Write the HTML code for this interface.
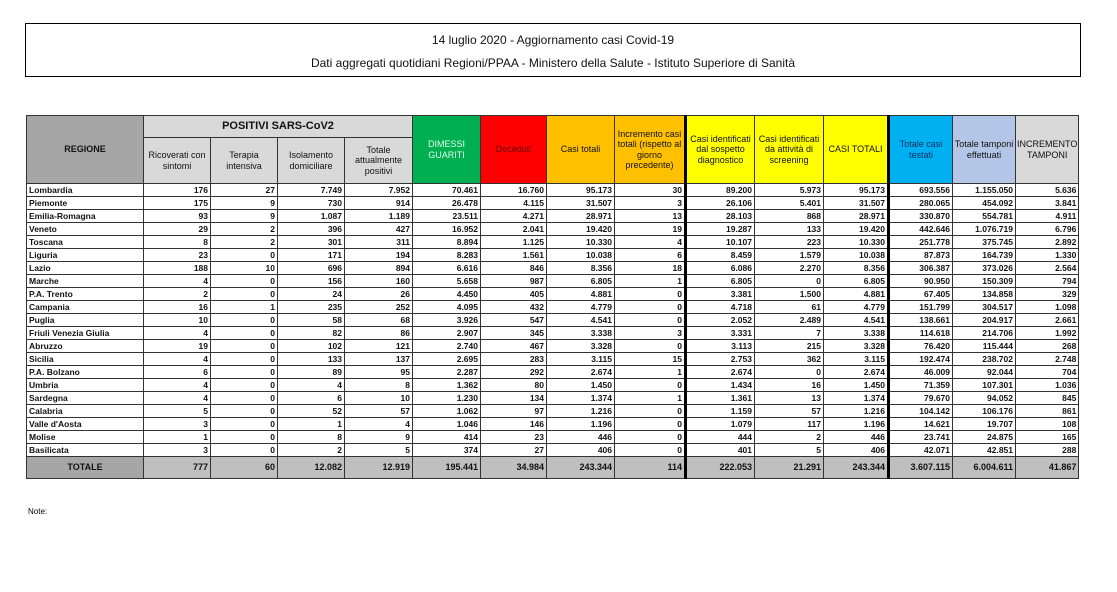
<!DOCTYPE html>
<html><head><meta charset="utf-8"><style>
body{margin:0;width:1117px;height:592px;background:#fff;font-family:"Liberation Sans",sans-serif;position:relative;overflow:hidden}
.title{position:absolute;left:25px;top:23px;width:1054px;height:52px;border:1px solid #000;text-align:center;font-size:12px;color:#111}
.title div{position:absolute;left:0;right:0}
table{position:absolute;left:26px;top:115px;border-collapse:collapse;table-layout:fixed;border:1.5px solid #000}
td{border:1px solid #333;padding:0 2px;font-size:8.5px;font-weight:bold;text-align:right;height:12px;line-height:11px;white-space:nowrap;overflow:hidden;color:#111}
td.r{text-align:left}
th{border:1px solid #333;font-size:9px;font-weight:normal;text-align:center;line-height:10.5px;padding:0 1px;color:#111}
.g{background:#00b050}.rd{background:#ff0000}.o{background:#ffc000}.y{background:#ffff00}.c{background:#00b0f0}.lb{background:#b4c6e7}.gr{background:#d9d9d9}.dg{background:#a6a6a6}
.tot td{height:21px;background:#bfbfbf;font-size:9px}
.tl{border-left:3px solid #000}
.note{position:absolute;left:28px;top:507px;font-size:8px}
</style></head><body>
<div class="title"><div style="top:9px">14 luglio 2020 - Aggiornamento casi Covid-19</div><div style="top:32px">Dati aggregati quotidiani Regioni/PPAA - Ministero della Salute - Istituto Superiore di Sanità</div></div>
<table>
<colgroup><col style="width:117px"><col style="width:67px"><col style="width:67px"><col style="width:67px"><col style="width:68px"><col style="width:68px"><col style="width:66px"><col style="width:68px"><col style="width:71px"><col style="width:69px"><col style="width:69px"><col style="width:65px"><col style="width:64px"><col style="width:63px"><col style="width:63px"></colgroup>
<tr style="height:22px"><th rowspan="2" class="dg" style="font-weight:bold">REGIONE</th><th colspan="4" class="gr" style="font-weight:bold;font-size:11px">POSITIVI SARS-CoV2</th><th rowspan="2" class="g" style="color:#dfe">DIMESSI<br>GUARITI</th><th rowspan="2" class="rd" style="color:#600">Deceduti</th><th rowspan="2" class="o">Casi totali</th><th rowspan="2" class="o">Incremento casi totali (rispetto al giorno precedente)</th><th rowspan="2" class="y tl">Casi identificati dal sospetto diagnostico</th><th rowspan="2" class="y">Casi identificati da attività di screening</th><th rowspan="2" class="y">CASI TOTALI</th><th rowspan="2" class="c tl" style="color:#036">Totale casi testati</th><th rowspan="2" class="lb">Totale tamponi effettuati</th><th rowspan="2" class="gr">INCREMENTO TAMPONI</th></tr>
<tr style="height:46px"><th class="gr">Ricoverati con sintomi</th><th class="gr">Terapia intensiva</th><th class="gr">Isolamento domiciliare</th><th class="gr">Totale attualmente positivi</th></tr>
<tr><td class="r">Lombardia</td><td>176</td><td>27</td><td>7.749</td><td>7.952</td><td>70.461</td><td>16.760</td><td>95.173</td><td>30</td><td class="tl">89.200</td><td>5.973</td><td>95.173</td><td class="tl">693.556</td><td>1.155.050</td><td>5.636</td></tr>
<tr><td class="r">Piemonte</td><td>175</td><td>9</td><td>730</td><td>914</td><td>26.478</td><td>4.115</td><td>31.507</td><td>3</td><td class="tl">26.106</td><td>5.401</td><td>31.507</td><td class="tl">280.065</td><td>454.092</td><td>3.841</td></tr>
<tr><td class="r">Emilia-Romagna</td><td>93</td><td>9</td><td>1.087</td><td>1.189</td><td>23.511</td><td>4.271</td><td>28.971</td><td>13</td><td class="tl">28.103</td><td>868</td><td>28.971</td><td class="tl">330.870</td><td>554.781</td><td>4.911</td></tr>
<tr><td class="r">Veneto</td><td>29</td><td>2</td><td>396</td><td>427</td><td>16.952</td><td>2.041</td><td>19.420</td><td>19</td><td class="tl">19.287</td><td>133</td><td>19.420</td><td class="tl">442.646</td><td>1.076.719</td><td>6.796</td></tr>
<tr><td class="r">Toscana</td><td>8</td><td>2</td><td>301</td><td>311</td><td>8.894</td><td>1.125</td><td>10.330</td><td>4</td><td class="tl">10.107</td><td>223</td><td>10.330</td><td class="tl">251.778</td><td>375.745</td><td>2.892</td></tr>
<tr><td class="r">Liguria</td><td>23</td><td>0</td><td>171</td><td>194</td><td>8.283</td><td>1.561</td><td>10.038</td><td>6</td><td class="tl">8.459</td><td>1.579</td><td>10.038</td><td class="tl">87.873</td><td>164.739</td><td>1.330</td></tr>
<tr><td class="r">Lazio</td><td>188</td><td>10</td><td>696</td><td>894</td><td>6.616</td><td>846</td><td>8.356</td><td>18</td><td class="tl">6.086</td><td>2.270</td><td>8.356</td><td class="tl">306.387</td><td>373.026</td><td>2.564</td></tr>
<tr><td class="r">Marche</td><td>4</td><td>0</td><td>156</td><td>160</td><td>5.658</td><td>987</td><td>6.805</td><td>1</td><td class="tl">6.805</td><td>0</td><td>6.805</td><td class="tl">90.950</td><td>150.309</td><td>794</td></tr>
<tr><td class="r">P.A. Trento</td><td>2</td><td>0</td><td>24</td><td>26</td><td>4.450</td><td>405</td><td>4.881</td><td>0</td><td class="tl">3.381</td><td>1.500</td><td>4.881</td><td class="tl">67.405</td><td>134.858</td><td>329</td></tr>
<tr><td class="r">Campania</td><td>16</td><td>1</td><td>235</td><td>252</td><td>4.095</td><td>432</td><td>4.779</td><td>0</td><td class="tl">4.718</td><td>61</td><td>4.779</td><td class="tl">151.799</td><td>304.517</td><td>1.098</td></tr>
<tr><td class="r">Puglia</td><td>10</td><td>0</td><td>58</td><td>68</td><td>3.926</td><td>547</td><td>4.541</td><td>0</td><td class="tl">2.052</td><td>2.489</td><td>4.541</td><td class="tl">138.661</td><td>204.917</td><td>2.661</td></tr>
<tr><td class="r">Friuli Venezia Giulia</td><td>4</td><td>0</td><td>82</td><td>86</td><td>2.907</td><td>345</td><td>3.338</td><td>3</td><td class="tl">3.331</td><td>7</td><td>3.338</td><td class="tl">114.618</td><td>214.706</td><td>1.992</td></tr>
<tr><td class="r">Abruzzo</td><td>19</td><td>0</td><td>102</td><td>121</td><td>2.740</td><td>467</td><td>3.328</td><td>0</td><td class="tl">3.113</td><td>215</td><td>3.328</td><td class="tl">76.420</td><td>115.444</td><td>268</td></tr>
<tr><td class="r">Sicilia</td><td>4</td><td>0</td><td>133</td><td>137</td><td>2.695</td><td>283</td><td>3.115</td><td>15</td><td class="tl">2.753</td><td>362</td><td>3.115</td><td class="tl">192.474</td><td>238.702</td><td>2.748</td></tr>
<tr><td class="r">P.A. Bolzano</td><td>6</td><td>0</td><td>89</td><td>95</td><td>2.287</td><td>292</td><td>2.674</td><td>1</td><td class="tl">2.674</td><td>0</td><td>2.674</td><td class="tl">46.009</td><td>92.044</td><td>704</td></tr>
<tr><td class="r">Umbria</td><td>4</td><td>0</td><td>4</td><td>8</td><td>1.362</td><td>80</td><td>1.450</td><td>0</td><td class="tl">1.434</td><td>16</td><td>1.450</td><td class="tl">71.359</td><td>107.301</td><td>1.036</td></tr>
<tr><td class="r">Sardegna</td><td>4</td><td>0</td><td>6</td><td>10</td><td>1.230</td><td>134</td><td>1.374</td><td>1</td><td class="tl">1.361</td><td>13</td><td>1.374</td><td class="tl">79.670</td><td>94.052</td><td>845</td></tr>
<tr><td class="r">Calabria</td><td>5</td><td>0</td><td>52</td><td>57</td><td>1.062</td><td>97</td><td>1.216</td><td>0</td><td class="tl">1.159</td><td>57</td><td>1.216</td><td class="tl">104.142</td><td>106.176</td><td>861</td></tr>
<tr><td class="r">Valle d'Aosta</td><td>3</td><td>0</td><td>1</td><td>4</td><td>1.046</td><td>146</td><td>1.196</td><td>0</td><td class="tl">1.079</td><td>117</td><td>1.196</td><td class="tl">14.621</td><td>19.707</td><td>108</td></tr>
<tr><td class="r">Molise</td><td>1</td><td>0</td><td>8</td><td>9</td><td>414</td><td>23</td><td>446</td><td>0</td><td class="tl">444</td><td>2</td><td>446</td><td class="tl">23.741</td><td>24.875</td><td>165</td></tr>
<tr><td class="r">Basilicata</td><td>3</td><td>0</td><td>2</td><td>5</td><td>374</td><td>27</td><td>406</td><td>0</td><td class="tl">401</td><td>5</td><td>406</td><td class="tl">42.071</td><td>42.851</td><td>288</td></tr>
<tr class="tot"><td style="text-align:center;background:#a6a6a6">TOTALE</td><td>777</td><td>60</td><td>12.082</td><td>12.919</td><td class="g">195.441</td><td class="rd">34.984</td><td class="o">243.344</td><td class="o">114</td><td class="y tl">222.053</td><td class="y">21.291</td><td class="y">243.344</td><td class="c tl">3.607.115</td><td class="lb">6.004.611</td><td>41.867</td></tr>
</table>
<div class="note">Note:</div>
</body></html>
